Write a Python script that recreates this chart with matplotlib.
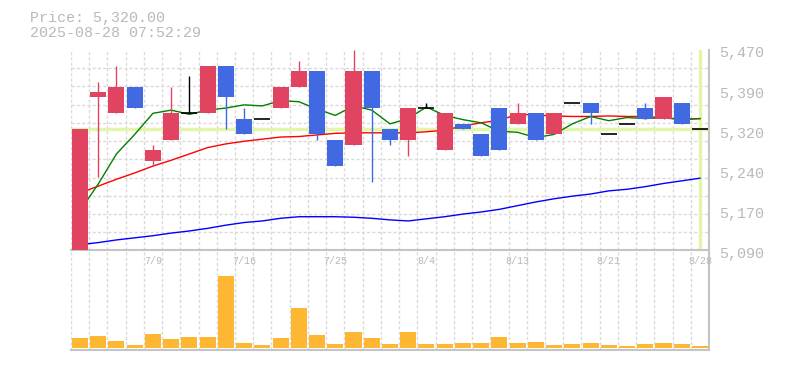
import numpy as np
import matplotlib
matplotlib.use("Agg")
import matplotlib.pyplot as plt
import matplotlib.transforms as mtransforms

# daily candles (yen)
opens = [5090, 5380, 5350, 5400, 5260, 5300, 5350, 5350, 5440, 5340, 5340, 5360,
         5400, 5430, 5300, 5290, 5430, 5320, 5300, 5360, 5280, 5330, 5310, 5360,
         5330, 5350, 5310, 5370, 5370, 5310, 5330, 5360, 5340, 5370, 5320]
highs = [5320, 5410, 5440, 5400, 5290, 5400, 5420, 5440, 5440, 5360, 5340, 5400,
         5450, 5430, 5300, 5470, 5430, 5320, 5360, 5370, 5350, 5330, 5310, 5360,
         5370, 5350, 5350, 5370, 5370, 5310, 5330, 5370, 5380, 5370, 5320]
lows = [5090, 5230, 5350, 5360, 5250, 5300, 5350, 5350, 5320, 5310, 5340, 5360,
        5400, 5300, 5250, 5290, 5220, 5290, 5270, 5360, 5280, 5320, 5270, 5280,
        5330, 5300, 5310, 5370, 5330, 5310, 5330, 5340, 5340, 5330, 5320]
closes = [5320, 5390, 5400, 5360, 5280, 5350, 5350, 5440, 5380, 5310, 5340, 5400,
          5430, 5310, 5250, 5430, 5360, 5300, 5360, 5360, 5350, 5320, 5270, 5280,
          5350, 5300, 5350, 5370, 5350, 5310, 5330, 5340, 5380, 5330, 5320]
volume = [3100, 3600, 2200, 900, 4300, 2700, 3400, 3400, 21400, 1600, 900, 3100,
          11800, 3900, 1300, 4900, 3100, 1300, 4900, 1300, 1300, 1600, 1600, 3400,
          1600, 1900, 900, 1300, 1600, 900, 600, 1300, 1600, 1300, 600]

ma5 = [5165, 5216, 5273, 5310, 5350, 5356, 5348, 5356, 5360, 5366, 5364, 5374,
       5372, 5358, 5346, 5364, 5356, 5330, 5340, 5362, 5346, 5338, 5332, 5316,
       5314, 5304, 5310, 5330, 5344, 5336, 5342, 5340, 5342, 5338, 5340]
ma25 = [5199, 5212, 5225, 5237, 5250, 5261, 5273, 5285, 5292, 5297, 5301, 5305,
        5306, 5309, 5312, 5313, 5313, 5313, 5313, 5315, 5318, 5326, 5332, 5337,
        5348, 5347, 5345, 5344, 5344, 5345, 5344, 5344, 5341, 5339, 5340]
ma75 = [5101, 5105, 5110, 5114, 5118, 5123, 5127, 5132, 5138, 5143, 5146, 5151,
        5154, 5154, 5154, 5153, 5151, 5148, 5146, 5150, 5154, 5159, 5163, 5168,
        5175, 5182, 5188, 5193, 5197, 5203, 5206, 5211, 5217, 5222, 5227]

date_idx = [4, 9, 14, 19, 24, 29, 34]
date_labels = ['7/9', '7/16', '7/25', '8/4', '8/13', '8/21', '8/28']
price_labels = ['5,090', '5,170', '5,240', '5,320', '5,390', '5,470']
last_price = 5320.00
stamp = '2025-08-28 07:52:29'

UP = '#e04461'
DOWN = '#4169e1'
GRID = '#d9d9d9'
AXIS = '#c4c4c4'
TXT = '#b9b9b9'
HILITE = '#e2f5ab'
MONO = 'Liberation Mono'

n = len(closes)
x = np.arange(n)
o = np.array(opens); c = np.array(closes)
h = np.array(highs); l = np.array(lows)
colors = np.where(c > o, UP, np.where(c < o, DOWN, 'black'))

fig = plt.figure(figsize=(7.85, 3.7), dpi=100)
axv = fig.add_axes([0.0903, 0.0554, 0.8130, 0.2676])
ax = fig.add_axes([0.0903, 0.3230, 0.8130, 0.5419], sharex=axv)
ax.patch.set_visible(False)
axv.patch.set_visible(False)

grid_kw = dict(color=GRID, linewidth=1.0, linestyle=(0, (2.2, 1.6)))

# price panel
ax.set_xlim(-0.5, n - 0.5)
ax.set_ylim(5090, 5470)
ax.set_xticks(np.arange(-0.5, n), minor=True)
ax.set_yticks(np.linspace(5090, 5470, 12), minor=True)
ax.grid(which='minor', **grid_kw)
ax.grid(which='major', visible=False)
ax.set_axisbelow(True)

ax.axhline(last_price, color=HILITE, linewidth=2.5, zorder=1)
ax.axvline(x[-1], ymin=0.005, ymax=0.995, color=HILITE, linewidth=2.5, zorder=1)

ax.plot(x, ma75, color='#0000ff', linewidth=1.0, zorder=2)
ax.plot(x, ma25, color='#ff0000', linewidth=1.0, zorder=2)
ax.plot(x, ma5, color='#008000', linewidth=1.0, zorder=2)

w = 0.88
ax.vlines(x, l, h, colors=colors, linewidth=1.0, zorder=3)
body = np.abs(c - o)
ax.bar(x, body, bottom=np.minimum(o, c), width=w, color=colors, linewidth=0, zorder=4)
doji = np.where(c == o)[0]
ax.hlines(c[doji], doji - w / 2, doji + w / 2, colors='black', linewidth=1.2, zorder=4)

for s in ['top', 'left']:
    ax.spines[s].set_visible(False)
for s in ['bottom', 'right']:
    ax.spines[s].set_color(AXIS)
    ax.spines[s].set_linewidth(1.5)

ax.yaxis.tick_right()
ax.set_yticks(np.linspace(5090, 5470, 6))
ax.set_yticklabels(price_labels, fontfamily=MONO, fontsize=10.8, color=TXT)
ax.tick_params(axis='y', which='both', length=0, pad=7)
shift = mtransforms.ScaledTranslation(0, -2 / 100, fig.dpi_scale_trans)
for lab in ax.get_yticklabels():
    lab.set_transform(lab.get_transform() + shift)
ax.set_xticks(date_idx)
ax.set_xticklabels(date_labels, fontfamily=MONO, fontsize=7.2, color=TXT)
ax.tick_params(axis='x', which='both', length=0, pad=4)

# volume panel
axv.bar(x, volume, width=w, color='#fdb733', linewidth=0, zorder=3)
axv.set_ylim(-450, 29100)
axv.set_xticks(np.arange(-0.5, n), minor=True)
axv.grid(which='minor', axis='x', **grid_kw)
axv.grid(which='major', visible=False)
axv.set_axisbelow(True)
axv.set_yticks([])
axv.tick_params(axis='x', which='both', length=0, labelbottom=False)
for s in ['top', 'left']:
    axv.spines[s].set_visible(False)
for s in ['bottom', 'right']:
    axv.spines[s].set_color(AXIS)
    axv.spines[s].set_linewidth(1.5)

fig.text(30 / 785, 1 - 18 / 370, f'Price: {last_price:,.2f}', fontfamily=MONO,
         fontsize=10.8, color=TXT, va='center', ha='left')
fig.text(30 / 785, 1 - 33 / 370, stamp, fontfamily=MONO,
         fontsize=10.8, color=TXT, va='center', ha='left')

fig.savefig('out.png', dpi=100)
